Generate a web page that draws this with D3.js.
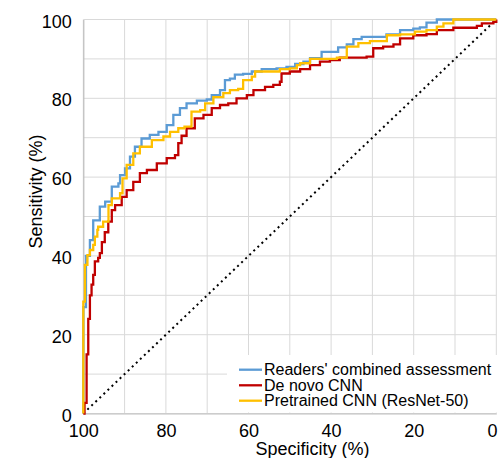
<!DOCTYPE html>
<html>
<head>
<meta charset="utf-8">
<script src="https://cdn.jsdelivr.net/npm/d3@7"></script>
<style>
  html, body { margin: 0; padding: 0; background: #fff; }
  svg { display: block; font-family: "Liberation Sans", Arial, Helvetica, sans-serif; }
</style>
</head>
<body>
<svg id="chart" width="498" height="458"></svg>
<script>
// ---- data (specificity %, sensitivity %) ----
const seriesNames = ["Readers' combined assessment", "De novo CNN", "Pretrained CNN (ResNet-50)"];
const seriesColors = ["#5b9bd5", "#c00000", "#ffc000"];

const readersSpec = [100,100,99.35,99.35,98.4,97.6,96.0,94.7,93.1,91.5,91.1,89.9,88.7,87.5,85.9,83.9,81.8,79.8,78.2,76.6,75.0,72.5,70.1,68.9,66.9,65.7,64.5,63.3,61.3,59.2,56.8,53.2,50.8,48.7,46.7,45.1,42.3,39.5,38.3,36.2,34.6,32.6,28.2,26.6,23.3,20.1,18.5,16.9,14.4,0];
const readersSens = [0,27,28,40,44,49,52.5,53.8,57.6,58.4,60.5,62.2,65.2,67.7,69.8,70.7,71.5,73.2,75.8,77.5,78.7,79.4,79.7,80.8,82.1,84.6,85,86,86.2,86.8,87.4,87.6,88,88.7,89.3,90.2,91.8,91.8,92.9,93.7,95,95.6,95.6,96.2,97.3,97.7,98,99.2,100,100];

const denovoSpec = [100,99.7,99.2,98.8,98.4,98.0,97.6,97.2,96.4,96.0,95.5,94.8,93.95,93.1,92.3,90.7,89.5,87.9,86.3,84.6,82.2,79.8,77.8,77.0,76.2,75.0,73.0,70.9,68.9,66.9,64.9,62.9,60.4,58.8,56.0,54.0,52.4,52.0,50.0,47.5,45.1,42.7,40.3,37.9,31.4,29.8,27.4,24.9,23.3,20.1,16.9,14.4,10.4,4.7,3.5,0.7,0];
const denovoSens = [0,2.7,15,24,30,32.7,35.2,38.6,39.5,40.7,43.5,46,48.7,51.6,52.9,55,56.7,58.8,61,61.8,63.5,64.8,65.6,68.6,70.5,72.4,74.9,75.8,77.5,78.3,78.7,80,80.8,82.1,82.9,83.4,84.2,86.3,86.8,87.4,88.4,89.3,89.7,90.3,90.6,92.7,93.1,93.7,95.2,96,96.3,97.3,97.9,98.4,99,99.4,100];

const pretrainedSpec = [100,100,99.6,99.0,98.4,97.6,97.2,96.6,96.4,95.2,93.9,93.1,91.1,90.5,89.5,87.9,86.3,83.4,80.6,79.0,77.0,75.5,73.8,71.7,70.5,68.5,66.1,64.5,62.5,61.3,59.2,58.4,54.0,52.4,50.0,48.3,47.5,45.1,38.6,36.2,33.4,30.6,26.5,23.3,19.7,16.9,14.4,12.8,10.4,0];
const pretrainedSens = [0,28.4,37.7,40.2,41.5,42.8,44.9,46.6,47.4,48.7,52.9,54.6,55.9,59.7,63.1,66,67.7,69.4,70.3,71.5,72.4,72.8,76.6,77,78.7,80.3,81.3,82.1,82.4,84.6,85.5,86.8,86.8,87.4,87.6,88.4,88.9,90,90.3,93.1,94,94.5,96,96.2,96.9,97.3,98.2,99,100,100];

const chanceSpec = [100, 0];
const chanceSens = [0, 100];

const xTicks = [100, 80, 60, 40, 20, 0];
const yTicks = [0, 20, 40, 60, 80, 100];
const gridStep = [0,10,20,30,40,50,60,70,80,90,100];

// ---- layout ----
const svg = d3.select("#chart");
const x = d3.scaleLinear().domain([100, 0]).range([83.3, 496.3]);
const y = d3.scaleLinear().domain([0, 100]).range([413.5, 19.5]);

// gridlines
const grid = svg.append("g");
grid.selectAll("line.v").data(gridStep).enter().append("line")
  .attr("x1", d => x(d)).attr("x2", d => x(d))
  .attr("y1", y(0)).attr("y2", y(100))
  .attr("stroke", "#d9d9d9").attr("stroke-width", 1);
grid.selectAll("line.h").data(gridStep).enter().append("line")
  .attr("y1", d => y(d)).attr("y2", d => y(d))
  .attr("x1", x(100)).attr("x2", x(0))
  .attr("stroke", "#d9d9d9").attr("stroke-width", 1);

// axes
const xAxis = svg.append("g").attr("transform", `translate(0,${y(0)})`)
  .call(d3.axisBottom(x).tickValues(xTicks).tickSize(0).tickPadding(0).tickFormat(d3.format("d")));
xAxis.select(".domain").attr("stroke", "#bfbfbf").attr("stroke-width", 1.2);
xAxis.selectAll("text").attr("font-size", 18).attr("fill", "#000")
  .attr("dy", null).attr("y", 23.5).attr("font-family", "Liberation Sans, Arial, sans-serif");
// last label kept inside the picture, as in the reference
xAxis.selectAll(".tick").filter(d => d === 0).select("text")
  .attr("text-anchor", "end").attr("x", 0.8);

const yAxis = svg.append("g").attr("transform", `translate(${x(100)},0)`)
  .call(d3.axisLeft(y).tickValues(yTicks).tickSize(0).tickPadding(0).tickFormat(d3.format("d")));
yAxis.select(".domain").attr("stroke", "#bfbfbf").attr("stroke-width", 1.2);
yAxis.selectAll("text").attr("font-size", 18).attr("fill", "#000")
  .attr("dy", null).attr("x", -11.5).attr("y", 7.5).attr("font-family", "Liberation Sans, Arial, sans-serif");

// axis titles
svg.append("text").attr("x", 312.5).attr("y", 455).attr("text-anchor", "middle")
  .attr("font-size", 18).attr("fill", "#000").text("Specificity (%)");
svg.append("text").attr("transform", "translate(42,191.5) rotate(-90)").attr("text-anchor", "middle")
  .attr("font-size", 18).attr("fill", "#000").text("Sensitivity (%)");

// chance line
svg.append("path")
  .datum(chanceSpec.map((s, i) => [s, chanceSens[i]]))
  .attr("d", d3.line().x(d => x(d[0])).y(d => y(d[1])))
  .attr("fill", "none").attr("stroke", "#000").attr("stroke-width", 2)
  .attr("stroke-dasharray", "2,3.6");

// ROC curves
const curves = [
  { spec: readersSpec, sens: readersSens, color: seriesColors[0] },
  { spec: denovoSpec, sens: denovoSens, color: seriesColors[1] },
  { spec: pretrainedSpec, sens: pretrainedSens, color: seriesColors[2] }
];
const line = d3.line().x(d => x(d[0])).y(d => y(d[1])).curve(d3.curveStepAfter);
curves.forEach(c => {
  svg.append("path")
    .datum(c.spec.map((s, i) => [s, c.sens[i]]))
    .attr("d", line)
    .attr("fill", "none").attr("stroke", c.color).attr("stroke-width", 2.3)
    .attr("stroke-linejoin", "miter");
});

// legend
const lg = svg.append("g");
lg.append("rect").attr("x", 227).attr("y", 355).attr("width", 270).attr("height", 57.5).attr("fill", "#fff");
const legY = [369.7, 385.3, 400.7];
seriesNames.forEach((n, i) => {
  lg.append("line").attr("x1", 239).attr("x2", 262).attr("y1", legY[i]).attr("y2", legY[i])
    .attr("stroke", seriesColors[i]).attr("stroke-width", 2.3);
  lg.append("text").attr("x", 264).attr("y", legY[i] + 5.5).attr("font-size", 16).attr("fill", "#000").text(n);
});
</script>
</body>
</html>
